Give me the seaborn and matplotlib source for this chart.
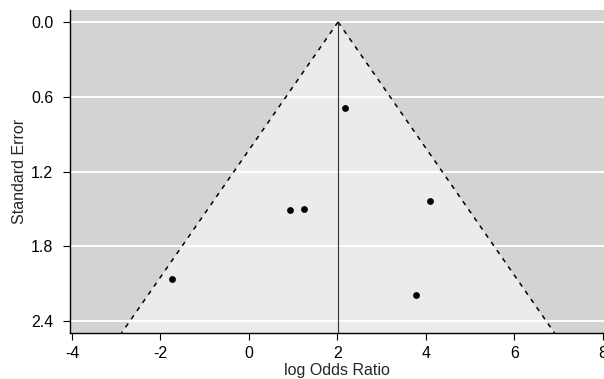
import matplotlib.pyplot as plt
import numpy as np
import pandas as pd
import seaborn as sns

# study estimates
log_or = [2.17, 0.92, 1.25, 4.10, -1.75, 3.78]
std_err = [0.69, 1.51, 1.50, 1.44, 2.06, 2.19]
x_ticks = [-4, -2, 0, 2, 4, 6, 8]
y_ticks = [0.0, 0.6, 1.2, 1.8, 2.4]

df = pd.DataFrame({"yi": log_or, "sei": std_err})
w = 1 / df["sei"] ** 2
est = (w * df["yi"]).sum() / w.sum()  # fixed-effect estimate

ylim = (2.496, -0.096)
xlim = (-4.045, 8.023)

sns.set_theme(style="white")
plt.rcParams["font.family"] = ["Liberation Sans", "DejaVu Sans"]
plt.rcParams["axes.unicode_minus"] = False

fig = plt.figure(figsize=(6.04, 3.79), dpi=100)
ax = fig.add_axes([70 / 604, 46 / 379, 534 / 604, 323 / 379])
ax.set_facecolor("#d3d3d3")

# pseudo-confidence region
se_max = ylim[0]
ax.fill([est - 1.96 * se_max, est, est + 1.96 * se_max], [se_max, 0, se_max],
        color="#ebebeb", lw=0, zorder=0.2)
ax.set_axisbelow(True)
ax.yaxis.grid(True, color="white", lw=1.4)
ax.xaxis.grid(False)

se_line = np.array([0, se_max])
ax.plot(est - 1.96 * se_line, se_line, color="black", lw=1.1, ls=(0, (3, 3.5)))
ax.plot(est + 1.96 * se_line, se_line, color="black", lw=1.1, ls=(0, (3, 3.5)))
ax.plot([est, est], se_line, color="#333333", lw=0.8)

sns.scatterplot(data=df, x="yi", y="sei", color="black", s=24,
                linewidth=0, ax=ax, zorder=3)

ax.set_xlim(xlim)
ax.set_ylim(ylim)
ax.set_xticks(x_ticks)
ax.set_yticks(y_ticks)
ax.set_yticklabels([f"{v:.1f}" for v in y_ticks])
ax.tick_params(direction="out", length=5, width=0.8, color="black",
               labelsize=11.5, labelcolor="black")
ax.tick_params(axis="x", pad=4)
ax.tick_params(axis="y", pad=7)
ax.tick_params(left=True, bottom=True)
for side in ["top", "right"]:
    ax.spines[side].set_visible(False)
for side in ["left", "bottom"]:
    ax.spines[side].set_color("black")
    ax.spines[side].set_linewidth(1)

ax.set_xlabel("log Odds Ratio", fontsize=11.5)
ax.set_ylabel("Standard Error", fontsize=11.5)
ax.xaxis.set_label_coords(0.5, -0.093)
ax.yaxis.set_label_coords(-0.08, 0.5)

fig.savefig("out.png", dpi=100)
